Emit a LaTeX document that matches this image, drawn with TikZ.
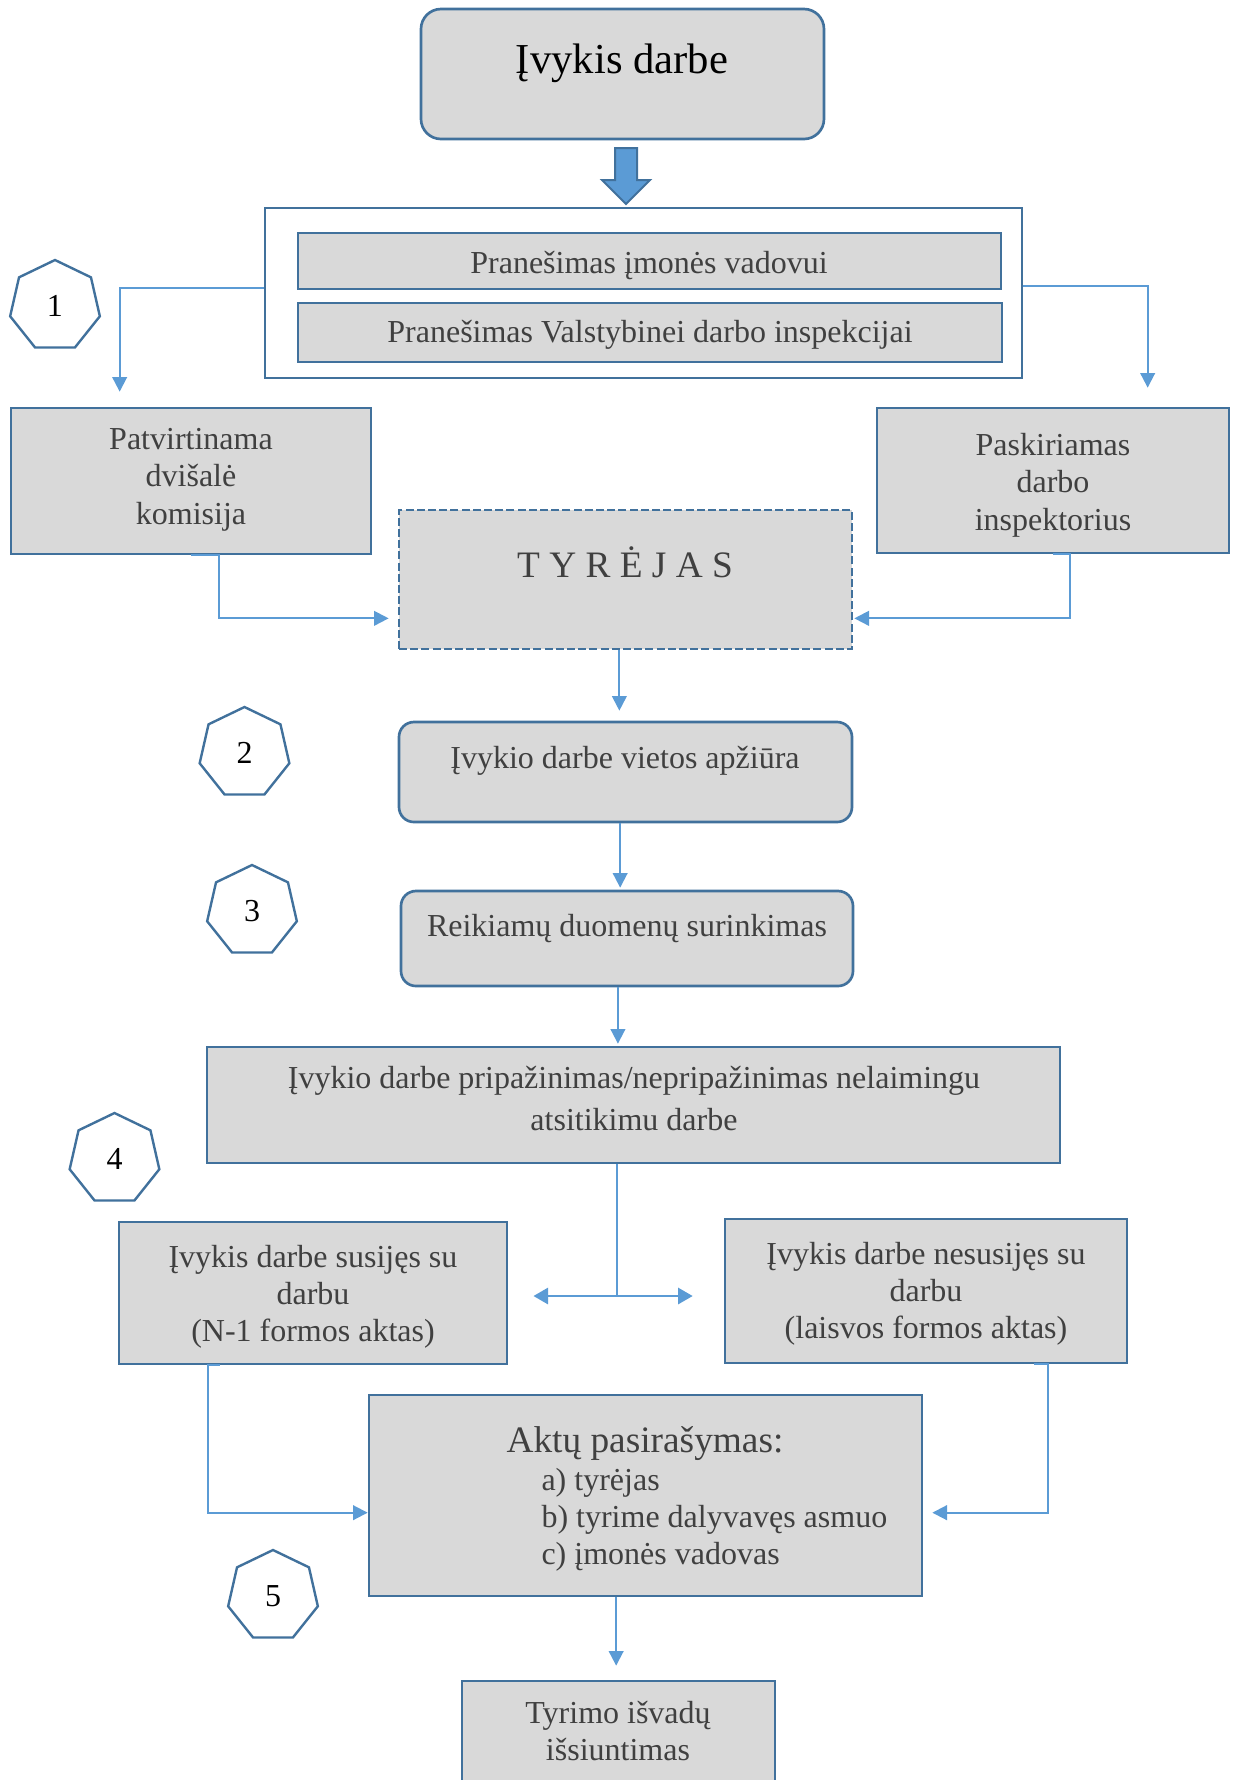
\documentclass[tikz,border=0pt]{standalone}
\usepackage{fontspec}
\setmainfont{Liberation Serif}
\usetikzlibrary{arrows.meta,shapes.geometric,fit,calc}

\definecolor{boxline}{HTML}{41719C}
\definecolor{boxfill}{HTML}{D9D9D9}
\definecolor{connline}{HTML}{5B9BD5}
\definecolor{txtgray}{HTML}{404040}

\tikzset{
  box/.style={draw=boxline, fill=boxfill, line width=1pt, inner sep=0pt},
  roundbox/.style={box, rounded corners=5.6pt},
  conn/.style={draw=connline, line width=0.75pt, -{Triangle[length=5.5pt,width=5.5pt]}},
  txt/.style={text=txtgray, font=\fontsize{12}{14}\selectfont, anchor=base, align=flush center, inner sep=0pt},
  numhept/.style={regular polygon, regular polygon sides=7, minimum size=34.5pt, inner sep=0pt,
    draw=boxline, line width=0.9pt, fill=white, font=\fontsize{12}{14}\selectfont}
}

\begin{document}
\begin{tikzpicture}[x=0.375pt, y=-0.375pt]
\useasboundingbox (0,0) rectangle (1238,1780);
\clip (0,0) rectangle (1238,1780);

% Event and block arrow
\node[box, rounded corners=7.5pt, fit={(421,9) (824,139)}] (event) {};
\node[txt, text=black, font=\fontsize{16}{19}\selectfont] (eventtxt) at (622,73) {Įvykis darbe};
\draw[draw=boxline, fill=connline, line width=0.75pt] (615,148) -- (637,148) -- (637,180) -- (650,180)
  -- (626,204) -- (602,180) -- (615,180) -- cycle;

% Notifications
\node[draw=boxline, fill=white, line width=1pt, inner sep=0pt, fit={(265,208) (1022,378)}] (notify) {};
\node[box, fit={(298,233) (1001,289)}] (boss) {};
\node[txt] (bosstxt) at (649,273) {Pranešimas įmonės vadovui};
\node[box, fit={(298,303) (1002,362)}] (vdi) {};
\node[txt] (vditxt) at (650,342) {Pranešimas Valstybinei darbo inspekcijai};

% Commission and inspector
\node[box, fit={(11,408) (371,554)}] (commis) {};
\node[txt, text width=130pt, font=\fontsize{12}{14.06}\selectfont] (commistxt) at (191,449) {Patvirtinama\\dvišalė\\komisija};
\node[box, fit={(877,408) (1229,553)}] (inspect) {};
\node[txt, text width=130pt, font=\fontsize{12}{14.06}\selectfont] (inspecttxt) at (1053,455) {Paskiriamas\\darbo\\inspektorius};

\draw[conn] ([yshift=1.9pt]notify.west) -| ($(commis.north west)+(110,-15)$);
\draw[conn] ([yshift=2.6pt]notify.east) -| ($(inspect.north west)+(272,-19)$);

% Investigator
\node[box, dash pattern=on 3pt off 1.2pt, fit={(399,510) (852,649)}] (tyr) {};
\node[txt, font=\fontsize{14}{17}\selectfont] (tyrtxt) at (625,577) {T Y R Ė J A S};

\draw[conn] (commis.south) -- ++(28,0) |- ($(tyr.south west)+(-9,-32)$);
\draw[conn] (inspect.south) -- ++(17,0) |- ($(tyr.south east)+(1,-32)$);

% Steps 2 and 3
\node[roundbox, fit={(399,722) (852,822)}] (view) {};
\node[txt] (viewtxt) at (625,768) {Įvykio darbe vietos apžiūra};
\node[roundbox, fit={(401,891) (853,986)}] (data) {};
\node[txt] (datatxt) at (627,936) {Reikiamų duomenų surinkimas};

\draw[conn, shorten >=3.75pt] ([xshift=-2.3pt]tyr.south) -- ([xshift=-2.3pt]tyr.south |- view.north);
\draw[conn, shorten >=0.75pt] ([xshift=-2pt]view.south) -- ([xshift=-2pt]view.south |- data.north);

% Recognition
\node[box, fit={(207,1047) (1060,1163)}] (recog) {};
\node[txt, text width=300pt, font=\fontsize{12}{15.75}\selectfont] (recogtxt) at (634,1088)
  {Įvykio darbe pripažinimas/nepripažinimas nelaimingu\\atsitikimu darbe};

\draw[conn, shorten >=0.75pt] ([xshift=-3.4pt]data.south) -- ([xshift=-3.4pt]data.south |- recog.north);

% Related / not related
\node[box, fit={(119,1222) (507,1364)}] (related) {};
\node[txt, text width=140pt, font=\fontsize{12}{13.9}\selectfont] (relatedtxt) at (313,1267)
  {Įvykis darbe susijęs su\\darbu\\(N-1 formos aktas)};
\node[box, fit={(725,1219) (1127,1363)}] (unrelated) {};
\node[txt, text width=140pt, font=\fontsize{12}{13.9}\selectfont] (unrelatedtxt) at (926,1264)
  {Įvykis darbe nesusijęs su\\darbu\\(laisvos formos aktas)};

\coordinate (split) at (617,1296);
\draw[draw=connline, line width=0.5pt] (split |- recog.south) -- (split);
\draw[draw=connline, line width=1.1pt, {Triangle[length=5.5pt,width=6pt]}-{Triangle[length=5.5pt,width=6pt]}]
  ([xshift=9.4pt]related.east |- split) -- ([xshift=-11.6pt]unrelated.west |- split);

% Signing
\node[box, fit={(369,1395) (922,1596)}] (sign) {};
\node[txt, font=\fontsize{14}{17}\selectfont] (signtxt) at (645,1452) {Aktų pasirašymas:};
\node[txt, anchor=base west, align=flush left, text width=160pt, font=\fontsize{12}{13.9}\selectfont] (signlist) at (541,1490)
  {a) tyrėjas\\b) tyrime dalyvavęs asmuo\\c) įmonės vadovas};

\draw[conn] (related.south west) ++(102,0) -- ++(-12,0) |- ($(sign.north west)+(0,119)$);
\draw[conn] (unrelated.south west) ++(310,0) -- ++(14,0) |- ($(sign.north east)+(9,119)$);

% Conclusions
\node[box, fit={(462,1681) (775,1800)}] (final) {};
\node[txt, text width=110pt, font=\fontsize{12}{13.9}\selectfont] (finaltxt) at (618,1723) {Tyrimo išvadų\\išsiuntimas};

\draw[conn, shorten >=5.25pt] ([xshift=-11pt]sign.south) -- ([xshift=-11pt]sign.south |- final.north);

% Step numbers
\node[numhept] (n1) at (55,306) {1};
\node[numhept] (n2) at (244.5,753) {2};
\node[numhept] (n3) at (252,911) {3};
\node[numhept] (n4) at (114.5,1159) {4};
\node[numhept] (n5) at (273,1596) {5};

\end{tikzpicture}
\end{document}
